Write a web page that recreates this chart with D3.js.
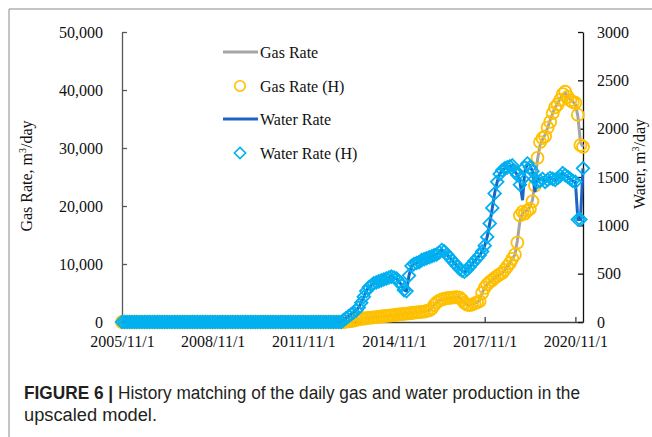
<!DOCTYPE html>
<html>
<head>
<meta charset="utf-8">
<title>Figure 6</title>
<style>
  body { margin: 0; background: #fff; }
  .serif { font-family: 'Liberation Serif', 'Times New Roman', serif; }
</style>
<script src="https://cdnjs.cloudflare.com/ajax/libs/d3/7.8.5/d3.min.js"></script>
</head>
<body>
<svg id="chart" width="652" height="437"></svg>
<script>
// monthly values from 2005/11 to 2021/02
var startMonth = new Date(Date.UTC(2005, 10, 1));

var gasSim = [
  0,0,0,0,0,0,0,0,0,0, 0,0,0,0,0,0,0,0,0,0, 0,0,0,0,0,0,0,0,0,0,
  0,0,0,0,0,0,0,0,0,0, 0,0,0,0,0,0,0,0,0,0, 0,0,0,0,0,0,0,0,0,0,
  0,0,0,0,0,0,0,0,0,0, 0,0,0,0,0,0,0,0,0,0, 0,0,0,0,0,0,0,0,0,
  50,100,150,250,350,450,550,600,650,700,
  750,800,850,900,950,1000,1050,1100,1150,1200,
  1250,1300,1350,1400,1450,1500,1550,1600,1650,1700,
  1750,1800,1900,2050,2400,2900,3400,3700,3900,4000,
  4100,4150,4200,4250,4300,4200,3800,3300,3000,2900,
  3000,3200,3400,3700,5000,5900,6500,6900,7240,7600,
  7900,8200,8450,9000,9600,10170,10900,11600,14000,17500,
  18800,19000,19300,19800,21000,24000,28000,30500,31500,32300,
  33500,34800,36000,37000,37700,38500,39200,39500,38900,38300,
  38000,37500,35500,31000,30200
];

var gasHist = [
  0,0,0,0,0,0,0,0,0,0, 0,0,0,0,0,0,0,0,0,0, 0,0,0,0,0,0,0,0,0,0,
  0,0,0,0,0,0,0,0,0,0, 0,0,0,0,0,0,0,0,0,0, 0,0,0,0,0,0,0,0,0,0,
  0,0,0,0,0,0,0,0,0,0, 0,0,0,0,0,0,0,0,0,0, 0,0,0,0,0,0,0,0,0,
  50,100,150,250,350,450,550,600,650,700,
  750,800,850,900,950,1000,1050,1100,1150,1200,
  1250,1300,1350,1400,1450,1500,1550,1600,1650,1700,
  1750,1800,1900,2000,2300,2900,3400,3700,3900,4000,
  4100,4150,4200,4250,4300,4200,3800,3300,3000,2900,
  3000,3200,3400,3600,5000,5900,6500,6900,7240,7600,
  7900,8200,8450,9000,9600,10170,10900,11600,13700,18400,
  19000,18700,19200,19500,20800,23500,28300,31000,31700,32000,
  33500,34500,36000,37000,37500,38300,39300,39700,38800,38200,
  37900,37800,35700,30500,30200
];

var waterSim = [
  0,0,0,0,0,0,0,0,0,0, 0,0,0,0,0,0,0,0,0,0, 0,0,0,0,0,0,0,0,0,0,
  0,0,0,0,0,0,0,0,0,0, 0,0,0,0,0,0,0,0,0,0, 0,0,0,0,0,0,0,0,0,0,
  0,0,0,0,0,0,0,0,0,0, 0,0,0,0,0,0,0,0,0,0, 0,0,0,0,0,0,0,0,
  20,40,60,80,100,120,150,200,260,320,
  360,380,400,410,420,430,440,450,460,470,
  460,450,420,380,330,320,480,580,600,610,
  620,640,650,660,670,680,690,700,720,745,
  730,700,670,640,610,580,550,530,520,540,
  570,600,630,660,690,730,790,880,1020,1180,
  1330,1450,1530,1570,1590,1600,1610,1620,1560,1520,
  1450,1260,1560,1640,1620,1560,1345,1500,1480,1480,
  1450,1470,1490,1480,1470,1490,1510,1540,1520,1500,
  1480,1460,1450,1060,1060,1590
];

var waterHist = [
  0,0,0,0,0,0,0,0,0,0, 0,0,0,0,0,0,0,0,0,0, 0,0,0,0,0,0,0,0,0,0,
  0,0,0,0,0,0,0,0,0,0, 0,0,0,0,0,0,0,0,0,0, 0,0,0,0,0,0,0,0,0,0,
  0,0,0,0,0,0,0,0,0,0, 0,0,0,0,0,0,0,0,0,0, 0,0,0,0,0,0,0,0,
  20,40,60,80,100,120,150,200,260,320,
  360,380,400,410,420,430,440,450,460,470,
  460,450,420,380,330,320,480,580,600,610,
  620,640,650,660,670,680,690,700,720,745,
  730,700,670,640,610,580,550,530,520,540,
  570,600,630,660,690,730,790,880,1020,1180,
  1330,1450,1530,1570,1590,1600,1610,1620,1560,1520,
  1420,1480,1600,1640,1600,1560,1480,1450,1460,1480,
  1450,1470,1490,1480,1470,1490,1510,1540,1520,1500,
  1480,1460,1450,1060,1060,1590
];

var xTickLabels = ["2005/11/1", "2008/11/1", "2011/11/1", "2014/11/1", "2017/11/1", "2020/11/1"];
var gasTicks = [0, 10000, 20000, 30000, 40000, 50000];
var waterTicks = [0, 500, 1000, 1500, 2000, 2500, 3000];
var legendNames = ["Gas Rate", "Gas Rate (H)", "Water Rate", "Water Rate (H)"];

var months = d3.utcMonth.range(startMonth, d3.utcMonth.offset(startMonth, gasSim.length));
var parseTick = d3.utcParse("%Y/%m/%d");
var tickDates = xTickLabels.map(parseTick);

var svg = d3.select("#chart");
var plotL = 122, plotR = 583, plotT = 32, plotB = 322;

var x = d3.scaleUtc().domain([startMonth, months[months.length - 1]]).range([plotL, plotR]);
var yGas = d3.scaleLinear().domain([0, 50000]).range([plotB, plotT]);
var yWater = d3.scaleLinear().domain([0, 3000]).range([plotB, plotT]);

// figure frame
svg.append("path").attr("d", "M9,437V9H652").attr("fill", "none")
  .attr("stroke", "#8a8a8a").attr("stroke-width", 1);

function styleAxis(g, col) {
  g.attr("font-family", "'Liberation Serif', 'Times New Roman', serif").attr("font-size", 16);
  g.select(".domain").attr("stroke", col).attr("stroke-width", 1.3);
  g.selectAll(".tick line").attr("stroke", col).attr("stroke-width", 1.3);
  g.selectAll(".tick text").attr("fill", "#111");
}

svg.append("g").attr("transform", "translate(0," + plotB + ")")
  .call(d3.axisBottom(x).tickValues(tickDates).tickFormat(function (d, i) { return xTickLabels[i]; })
    .tickSize(-5).tickSizeOuter(0).tickPadding(14))
  .call(styleAxis, "#404040");

svg.append("g").attr("transform", "translate(" + plotL + ",0)")
  .call(d3.axisLeft(yGas).tickValues(gasTicks).tickFormat(d3.format(","))
    .tickSize(-5).tickSizeOuter(0).tickPadding(19))
  .call(styleAxis, "#595959");

svg.append("g").attr("transform", "translate(" + plotR + ",0)")
  .call(d3.axisRight(yWater).tickValues(waterTicks).tickFormat(d3.format("d"))
    .tickSize(-5).tickSizeOuter(0).tickPadding(14))
  .call(styleAxis, "#111");

// axis titles
function unitTitle(tx, ty, label) {
  var t = svg.append("text").attr("class", "serif").attr("font-size", 16).attr("fill", "#111")
    .attr("text-anchor", "middle")
    .attr("transform", "translate(" + tx + "," + ty + ")rotate(-90)");
  t.append("tspan").text(label + ", m");
  t.append("tspan").attr("font-size", 10).attr("dy", -6).text("3");
  t.append("tspan").attr("dy", 6).text("/day");
}
unitTitle(32, 176, "Gas Rate");
unitTitle(645, 164, "Water");

var diamond = "M0,-6.3L6.3,0L0,6.3L-6.3,0Z";
var legDiamond = "M0,-5.6L5.6,0L0,5.6L-5.6,0Z";
var gasCol = "#a5a5a5", gasHCol = "#ffc000", watCol = "#1c65c4", watHCol = "#00b0f0";

var gasLine = d3.line().x(function (d, i) { return x(months[i]); }).y(function (d) { return yGas(d); });
var watLine = d3.line().x(function (d, i) { return x(months[i]); }).y(function (d) { return yWater(d); });

svg.append("path").datum(gasSim).attr("d", gasLine)
  .attr("fill", "none").attr("stroke", gasCol).attr("stroke-width", 3);

svg.append("g").selectAll("circle").data(gasHist).join("circle")
  .attr("cx", function (d, i) { return x(months[i]); })
  .attr("cy", function (d) { return yGas(d); })
  .attr("r", 6).attr("fill", "none").attr("stroke", gasHCol).attr("stroke-width", 1.8);

svg.append("path").datum(waterSim).attr("d", watLine)
  .attr("fill", "none").attr("stroke", watCol).attr("stroke-width", 3);

svg.append("g").selectAll("path").data(waterHist).join("path")
  .attr("d", diamond)
  .attr("transform", function (d, i) { return "translate(" + x(months[i]) + "," + yWater(d) + ")"; })
  .attr("fill", "none").attr("stroke", watHCol).attr("stroke-width", 1.8);

// legend
var leg = svg.append("g");
var legY = [52, 86, 119, 153];
legendNames.forEach(function (name, i) {
  var g = leg.append("g").attr("transform", "translate(0," + legY[i] + ")");
  if (i === 0 || i === 2) {
    g.append("line").attr("x1", 223).attr("x2", 258).attr("y1", 0).attr("y2", 0)
      .attr("stroke", i === 0 ? gasCol : watCol).attr("stroke-width", 3);
  } else if (i === 1) {
    g.append("circle").attr("cx", 240).attr("cy", 0).attr("r", 5.2)
      .attr("fill", "none").attr("stroke", gasHCol).attr("stroke-width", 1.6);
  } else {
    g.append("path").attr("d", legDiamond).attr("transform", "translate(240,0)")
      .attr("fill", "none").attr("stroke", watHCol).attr("stroke-width", 1.6);
  }
  g.append("text").attr("class", "serif").attr("x", 260).attr("y", 5.5)
    .attr("font-size", 16).attr("fill", "#111").text(name);
});

// caption
var cap = svg.append("g").attr("font-family", "'Liberation Sans Narrow', 'Liberation Sans', Arial, sans-serif")
  .attr("font-size", 18).attr("fill", "#231f20");
var c1 = cap.append("text").attr("x", 24).attr("y", 399)
  .attr("textLength", 556).attr("lengthAdjust", "spacingAndGlyphs");
c1.append("tspan").attr("font-weight", "bold").text("FIGURE 6 | ");
c1.append("tspan").text("History matching of the daily gas and water production in the");
cap.append("text").attr("x", 24).attr("y", 421)
  .attr("textLength", 133).attr("lengthAdjust", "spacingAndGlyphs").text("upscaled model.");
</script>
</body>
</html>
